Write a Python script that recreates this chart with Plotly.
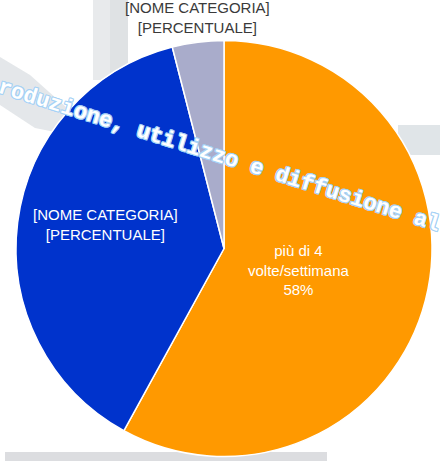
import plotly.graph_objects as go

# Slice data (clockwise from 12 o'clock)
categories = ["più di 4 volte/settimana", "[NOME CATEGORIA]", "[NOME CATEGORIA] "]
values = [58, 38, 4]
colors = ["#FF9900", "#0033CC", "#A9ACCB"]

W, H = 440, 461
FONT = "Liberation Sans, Arial, sans-serif"

fig = go.Figure()
fig.add_trace(go.Pie(
    labels=categories,
    values=values,
    sort=False,
    direction="clockwise",
    rotation=0,
    marker=dict(colors=colors, line=dict(color="white", width=1.5)),
    textinfo="none",
    hoverinfo="label+percent",
    showlegend=False,
    domain=dict(x=[16 / W, 432 / W], y=[4 / H, 421 / H]),
))


def px(x):
    return x / W


def py(y):
    return 1 - y / H


annotations = [
    dict(text=f"più di 4<br>volte/settimana<br>{values[0]}%", x=px(299), y=py(270),
         font=dict(color="white", size=15, family=FONT)),
    dict(text="[NOME CATEGORIA]<br>[PERCENTUALE]", x=px(105), y=py(224),
         font=dict(color="white", size=15, family=FONT)),
    dict(text="[NOME CATEGORIA]<br>[PERCENTUALE]", x=px(197), y=py(18),
         font=dict(color="#3a3a3a", size=15, family=FONT)),
]
for a in annotations:
    a.update(xref="paper", yref="paper", showarrow=False,
             xanchor="center", yanchor="middle")

# Diagonal notice overlay
outline = ", ".join(f"{dx}px {dy}px 0px #a6d2f6" for dx, dy in
                    [(1, 0), (-1, 0), (0, 1), (0, -1), (1, 1), (-1, -1), (1, -1), (-1, 1)])
annotations.append(dict(
    text="riproduzione, utilizzo e diffusione al",
    x=px(200), y=py(151), xref="paper", yref="paper",
    xanchor="center", yanchor="middle", showarrow=False,
    textangle=17.5,
    font=dict(color="white", size=22, family="Liberation Mono, monospace",
              weight="bold", shadow=outline),
))

# Faint grey smudges sitting behind the pie
shapes = [
    dict(type="rect", x0=px(93), x1=px(110), y0=py(0), y1=py(80), fillcolor="#e8eaec"),
    dict(type="rect", x0=px(110), x1=px(128), y0=py(0), y1=py(80), fillcolor="#dfe2e4"),
    dict(type="path", path=f"M {px(0)} {py(57)} L {px(30)} {py(75)} L {px(67)} {py(108)} "
                           f"L {px(60)} {py(133)} L {px(35)} {py(128)} L {px(0)} {py(105)} Z",
         fillcolor="#e4e7ea"),
    dict(type="rect", x0=px(398), x1=px(440), y0=py(125), y1=py(155), fillcolor="#e0e5e8"),
    dict(type="rect", x0=px(5), x1=px(327), y0=py(452), y1=py(461), fillcolor="#dcdde0"),
]
for s in shapes:
    s.update(xref="paper", yref="paper", line=dict(width=0), layer="below")

fig.update_layout(
    width=W, height=H,
    margin=dict(l=0, r=0, t=0, b=0),
    paper_bgcolor="white",
    plot_bgcolor="white",
    annotations=annotations,
    shapes=shapes,
)

fig.write_html("out.html")
